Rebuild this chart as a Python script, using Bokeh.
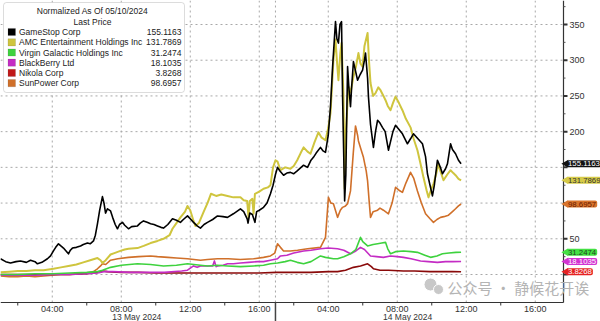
import math
from bokeh.plotting import figure
from bokeh.models import Range1d, Label, BoxAnnotation, ColumnDataSource
from bokeh.core.properties import value
from bokeh.embed import file_html
from bokeh.resources import INLINE

# ---------------- data ----------------
# time axis: session hours; 13 May clock hour h -> h, 14 May clock hour h -> 16 + h
names = ["GameStop Corp", "AMC Entertainment Holdings Inc", "Virgin Galactic Holdings Inc",
         "BlackBerry Ltd", "Nikola Corp", "SunPower Corp"]
last_values = ["155.1163", "131.7869", "31.2474", "18.1035", "3.8268", "98.6957"]

gme_t = [1.0, 1.3, 1.58, 1.9, 2.16, 2.5, 2.74, 3.0, 3.14, 3.4, 3.72, 3.9, 4.07, 4.2, 4.36, 4.5, 4.65, 4.8, 4.94,
         5.05, 5.17, 5.4, 5.64, 5.8, 6.04, 6.2, 6.39, 6.5, 6.62, 6.75, 6.91, 7.0, 7.09, 7.2, 7.38, 7.5, 7.65, 7.78,
         7.9, 8.07, 8.2, 8.42, 8.6, 8.94, 9.1, 9.29, 9.5, 9.7, 9.9, 10.1, 10.3, 10.45, 10.7, 10.97, 11.2, 11.43,
         11.6, 11.84, 12.0, 12.19, 12.4, 12.59, 12.8, 13.0, 13.3, 13.58, 13.9, 14.16, 14.5, 14.91, 15.1, 15.3,
         15.35, 15.45, 15.6, 15.75, 15.85, 16.0, 16.25, 16.45, 16.65, 16.8, 16.94, 17.06, 17.2, 17.41, 17.6,
         17.81, 17.99, 18.2, 18.57, 18.8, 19.0, 19.14, 19.3, 19.55, 19.7, 19.84, 20.0, 20.13, 20.25, 20.42,
         20.5, 20.59, 20.68, 20.77, 20.83, 20.88, 20.95, 21.02, 21.12, 21.2, 21.29, 21.35, 21.46, 21.58, 21.7,
         21.85, 21.99, 22.1, 22.16, 22.28, 22.33, 22.45, 22.62, 22.74, 22.86, 23.0, 23.14, 23.3, 23.49, 23.6,
         23.75, 23.9, 24.1, 24.3, 24.59, 24.77, 24.94, 25.2, 25.46, 25.64, 25.75, 25.9, 26.04, 26.15, 26.33,
         26.5, 26.62, 26.8, 26.91, 27.09, 27.2, 27.38, 27.55, 27.7]
gme_v = [22, 18, 16, 18, 19, 17, 20, 18, 15, 17, 22, 26, 33, 38, 43, 40, 37, 33, 29,
         34, 37, 38, 40, 42, 44, 43, 47, 55, 71, 90, 109, 100, 86, 92, 89, 80, 70, 64,
         70, 73, 69, 64, 67, 68, 72, 75, 73, 71, 70, 68, 66, 65, 70, 78, 76, 73,
         77, 82, 78, 73, 68, 65, 70, 73, 77, 82, 81, 80, 85, 92, 88, 78,
         72, 86, 84, 73, 88, 90, 94, 100, 113, 125, 140, 150, 145, 139, 142,
         143, 141, 145, 153, 150, 160, 164, 170, 178, 173, 171, 195, 235, 290, 354,
         330, 324, 350, 354, 250, 188, 103, 140, 291, 260, 235, 260, 298, 285, 272,
         280, 286, 300, 310, 275, 249, 210, 178, 200, 216, 212, 206, 200, 174, 185,
         200, 209, 203, 197, 183, 190, 197, 190, 183, 165, 141, 125, 110, 125, 160,
         150, 141, 148, 155, 183, 175, 169, 160, 155.1]

amc_t = [1.0, 1.5, 2.0, 2.5, 3.0, 3.5, 4.07, 4.5, 4.94, 5.4, 5.8, 6.2, 6.62, 6.8, 6.91, 7.1, 7.38, 7.6, 7.95,
         8.2, 8.42, 8.94, 9.3, 9.7, 10.1, 10.45, 10.8, 10.97, 11.2, 11.43, 11.7, 11.84, 12.0, 12.19, 12.3, 12.5,
         12.8, 13.0, 13.2, 13.5, 13.8, 14.16, 14.5, 14.91, 15.1, 15.3, 15.38, 15.45, 15.6, 15.67, 15.75, 16.0,
         16.25, 16.5, 16.65, 16.8, 16.94, 17.06, 17.23, 17.5, 17.81, 18.0, 18.2, 18.4, 18.57, 18.8, 18.97, 19.2,
         19.43, 19.6, 19.84, 20.0, 20.13, 20.3, 20.42, 20.5, 20.59, 20.7, 20.77, 20.88, 20.95, 21.02, 21.17,
         21.3, 21.46, 21.6, 21.75, 21.87, 21.99, 22.1, 22.28, 22.36, 22.45, 22.6, 22.74, 22.9, 23.03, 23.2,
         23.32, 23.45, 23.61, 23.75, 23.9, 24.1, 24.3, 24.5, 24.77, 24.95, 25.17, 25.35, 25.52, 25.7, 25.81,
         25.95, 26.1, 26.25, 26.39, 26.5, 26.68, 26.9, 27.09, 27.25, 27.38, 27.55, 27.7]
amc_v = [3, 4, 5, 5, 6, 6, 8, 10, 12, 14, 17, 20, 23, 20, 16, 20, 28, 30, 33,
         35, 36, 37, 40, 44, 47, 50, 55, 64, 72, 80, 88, 96, 90, 75, 68, 72,
         89, 100, 113, 110, 112, 110, 108, 108, 104, 103, 80, 103, 106, 85, 113, 116,
         120, 122, 125, 150, 160, 158, 146, 150, 148, 152, 160, 170, 178, 172, 169, 185,
         199, 192, 188, 205, 226, 300, 329, 300, 272, 310, 324, 254, 120, 200, 263,
         255, 277, 290, 310, 295, 291, 320, 338, 300, 268, 250, 254, 262, 258, 250,
         244, 236, 230, 240, 249, 240, 230, 218, 206, 190, 174, 155, 136, 118, 108,
         118, 127, 140, 155, 145, 132, 140, 146, 142, 139, 134, 131.8]

spwr_t = [1.0, 1.5, 2.0, 2.5, 3.0, 3.5, 4.0, 4.5, 5.0, 5.5, 6.0, 6.39, 6.62, 6.8, 6.91, 7.1, 7.38, 7.8, 8.42,
          9.0, 9.7, 10.1, 10.7, 11.2, 11.84, 12.59, 13.0, 13.58, 14.2, 14.9, 15.67, 16.25, 16.65, 16.9, 17.06,
          17.23, 17.41, 17.8, 18.22, 18.8, 19.55, 19.84, 20.01, 20.15, 20.3, 20.54, 20.7, 20.83, 21.0, 21.12,
          21.29, 21.45, 21.58, 21.7, 21.75, 21.9, 22.04, 22.2, 22.28, 22.38, 22.45, 22.6, 22.86, 23.0, 23.2,
          23.49, 23.7, 23.9, 24.1, 24.3, 24.5, 24.77, 24.95, 25.17, 25.4, 25.64, 25.9, 26.1, 26.3, 26.51, 26.7,
          26.97, 27.2, 27.38, 27.55, 27.7]
spwr_v = [-2, -3, -3, -2, -3, -2, -1, 0, 0, 1, 2, 4, 8, 12, 15, 14, 20, 22, 24,
          25, 26, 25, 24, 23, 22, 20, 21, 22, 22, 21, 22, 24, 26, 30, 43,
          38, 33, 33, 34, 36, 38, 52, 108, 100, 99, 80, 90, 94, 96, 99,
          117, 170, 208, 195, 187, 175, 164, 145, 131, 100, 80, 88, 90, 93, 90,
          85, 100, 122, 118, 115, 128, 143, 135, 117, 100, 85, 78, 73, 77, 80, 81,
          83, 88, 92, 96, 98.7]

spce_t = [1.0, 2.0, 3.0, 4.0, 5.0, 6.0, 6.62, 6.91, 7.38, 8.0, 8.94, 9.7, 10.45, 11.2, 11.84, 12.59, 13.0,
          13.58, 14.16, 14.91, 15.67, 16.25, 16.65, 17.06, 17.5, 17.81, 18.2, 18.57, 19.0, 19.55, 19.84, 20.3,
          20.54, 20.9, 21.29, 21.6, 21.87, 22.0, 22.28, 22.6, 22.86, 23.1, 23.32, 23.45, 23.61, 23.9, 24.36,
          24.8, 25.17, 25.6, 25.93, 26.3, 26.62, 27.0, 27.4, 27.7]
spce_v = [0, 0, 1, 1, 2, 3, 4, 6, 10, 13, 15, 14, 12, 13, 15, 13, 12,
          13, 12, 11, 12, 13, 15, 16, 18, 20, 17, 15, 18, 26, 24, 22,
          22, 25, 29, 35, 52, 46, 40, 42, 43, 44, 45, 36, 29, 32, 33,
          32, 31, 27, 24, 26, 29, 30, 31, 31.2]

bb_t = [1.0, 2.0, 3.0, 4.0, 5.0, 6.0, 6.62, 7.0, 7.5, 8.5, 9.5, 10.5, 11.5, 11.84, 12.19, 12.4, 12.59, 13.0,
        13.3, 13.4, 13.5, 13.58, 13.9, 14.16, 14.5, 14.91, 15.38, 15.9, 16.25, 16.65, 17.06, 17.23, 17.6, 18.0,
        18.57, 19.0, 19.55, 20.0, 20.54, 20.9, 21.29, 21.6, 21.87, 22.1, 22.45, 22.8, 23.2, 23.6, 24.0, 24.36,
        24.8, 25.35, 25.8, 26.33, 26.8, 27.2, 27.7]
bb_v = [-1, -1, -1, 0, 0, 1, 2, 4, 4, 3, 3, 3, 5, 6, 12, 10, 12, 12,
        12, 19, 11, 12, 13, 15, 15, 16, 17, 18, 18, 20, 22, 26, 27, 30,
        33, 34, 36, 37, 36, 34, 29, 33, 38, 35, 26, 25, 24, 26, 25, 24,
        22, 19, 18, 17, 18, 18, 18.1]

nkla_t = [1.0, 2.0, 3.0, 4.0, 5.0, 6.0, 6.62, 6.91, 7.2, 8.0, 9.0, 10.0, 11.0, 12.0, 13.0, 14.0, 15.0, 16.0,
          17.0, 18.0, 19.0, 20.0, 20.54, 21.0, 21.46, 21.87, 22.28, 22.5, 22.62, 23.0, 23.5, 24.36, 25.0, 25.9,
          26.5, 27.2, 27.7]
nkla_v = [0, 0, 0, 0, 0, 1, 3, 5, 4, 3, 3, 2, 2, 2, 2, 2, 2, 2,
          3, 3, 3, 4, 4, 6, 10, 12, 15, 11, 8, 6, 6, 5, 5, 4,
          4, 4, 3.8]

x_ticks = [4, 8, 12, 16, 20, 24, 28, 32]
x_tick_labels = ["04:00", "08:00", "12:00", "16:00", "04:00", "08:00", "12:00", "16:00"]
x_minor_ticks = [2, 6, 10, 14, 18, 22, 26, 30]
day_break = 16.94
date_labels = ["13 May 2024", "14 May 2024"]
date_label_pos = [8.9, 24.6]
y_label_ticks = [50, 200, 250, 300, 350]
y_grid_ticks = [0, 50, 100, 150, 200, 250, 300, 350]
y_minor_ticks = [25, 75, 125, 175, 225, 275, 325, 375]

line_colors = ["#000000", "#cfc53e", "#3ed23e", "#c42cc4", "#8a0a0a", "#d0702a"]
legend_colors = ["#000000", "#cfc53e", "#3ed23e", "#c42cc4", "#c01818", "#d0702a"]
tag_colors = ["#111111", "#d6cb48", "#44e044", "#d233d2", "#e52222", "#d8742c"]
tag_text_colors = ["#ffffff", "#333333", "#224422", "#ffffff", "#ffffff", "#6a1a00"]

series_t = [gme_t, amc_t, spce_t, bb_t, nkla_t, spwr_t]
series_v = [gme_v, amc_v, spce_v, bb_v, nkla_v, spwr_v]

# ---------------- layout helpers (pixel -> data for decorations) ----------------
PX_PER_HOUR = 17.25
PX_PER_UNIT = 250 / 350.0
ZERO_PY = 274.0
AREA_R, AREA_B = 563, 302     # right axis x / bottom axis y, in pixels
W, H = 600, 321


def X(px):
    return 1.0 + px / PX_PER_HOUR


def Y(py):
    return (ZERO_PY - py) / PX_PER_UNIT


FONT = "Liberation Sans"
GRID = "#a8a8a8"
AX = "#333333"

p = figure(width=W, height=H, output_backend="svg", toolbar_location=None,
           x_range=Range1d(X(0), X(W)), y_range=Range1d(Y(H), Y(0)),
           x_axis_location=None, y_axis_location=None, min_border=0)
p.outline_line_color = None
p.grid.visible = False
p.background_fill_color = "white"
p.border_fill_color = "white"

x_left, x_right = X(0), X(AREA_R)
y_bot, y_top = Y(AREA_B), Y(0)

# dotted grid
vx = x_ticks + [day_break]
p.segment(x0=vx, y0=[y_bot] * len(vx), x1=vx, y1=[y_top] * len(vx),
          line_color=GRID, line_dash="2 3", line_width=1)
p.segment(x0=[x_left] * len(y_grid_ticks), y0=y_grid_ticks, x1=[x_right] * len(y_grid_ticks),
          y1=y_grid_ticks, line_color=GRID, line_dash="2 3", line_width=1)

# lines (first series on top)
for i in reversed(range(len(names))):
    p.line(series_t[i], series_v[i], line_color=line_colors[i],
           line_width=2.0 if i == 1 else 1.6, line_join="round")

# axis lines
p.segment(x0=[x_left, x_right], y0=[y_bot, y_bot], x1=[x_right, x_right], y1=[y_bot, y_top],
          line_color=AX, line_width=1.2)
# day separator below the time axis
p.segment(x0=[day_break], y0=[y_bot], x1=[day_break], y1=[Y(H)], line_color="#444444", line_width=1.5)
# x minor ticks
p.segment(x0=x_minor_ticks, y0=[y_bot] * len(x_minor_ticks), x1=x_minor_ticks,
          y1=[Y(AREA_B + 3)] * len(x_minor_ticks), line_color=AX, line_width=1)
# y ticks (right)
p.segment(x0=[x_right] * len(y_grid_ticks), y0=y_grid_ticks, x1=[X(AREA_R + 4)] * len(y_grid_ticks),
          y1=y_grid_ticks, line_color=AX, line_width=2)
p.segment(x0=[x_right] * len(y_minor_ticks), y0=y_minor_ticks, x1=[X(AREA_R + 2)] * len(y_minor_ticks),
          y1=y_minor_ticks, line_color="#555555", line_width=1)

# tick labels
p.text(x=[X(AREA_R + 6)] * len(y_label_ticks), y=y_label_ticks, text=[str(t) for t in y_label_ticks],
       text_align="left", text_baseline="middle", text_font=value(FONT), text_font_size="9px",
       text_color=AX)
p.text(x=x_ticks, y=[Y(AREA_B + 6)] * len(x_ticks), text=x_tick_labels, text_align="center",
       text_baseline="middle", text_font=value(FONT), text_font_size="9px", text_color=AX)
p.text(x=date_label_pos, y=[Y(AREA_B + 14)] * len(date_labels), text=date_labels, text_align="center",
       text_baseline="middle", text_font=value(FONT), text_font_size="8.5px", text_color=AX)

# value tags on the right axis
tag_src = ColumnDataSource(dict(x=[X(AREA_R + 3.5)] * len(names), y=[float(v) for v in last_values],
                                text=last_values, fill=tag_colors, tc=tag_text_colors))
p.scatter(x=[X(AREA_R + 2.5)] * len(names), y=[float(v) for v in last_values], marker="triangle",
          angle=math.pi / 2, size=8, fill_color=tag_colors, line_color=None)
p.text(x="x", y="y", text="text", source=tag_src, text_align="left", text_baseline="middle",
       text_font=value(FONT), text_font_size="7.8px", text_color="tc",
       background_fill_color="fill", background_fill_alpha=1.0, padding=1, border_radius=2)

# watermark
p.text(x=[X(447)], y=[Y(287)], text=["公众号 · 静候花开诶"], text_align="left", text_baseline="middle",
       text_font=value("Noto Sans CJK SC"), text_font_size="15px", text_color="#b4b4b4")
p.scatter(x=[X(430), X(438)], y=[Y(284), Y(289)], marker="circle", size=[13, 10],
          fill_color="#c8c8c8", line_color="white", line_width=1)

# legend box
p.add_layout(BoxAnnotation(left=X(3), right=X(184), top=Y(2), bottom=Y(92),
                           fill_color="white", fill_alpha=1.0, line_color="#8a8a8a",
                           line_width=1, border_radius=3))
p.add_layout(Label(x=X(92), y=Y(10), text="Normalized As Of 05/10/2024", text_align="center",
                   text_baseline="middle", text_font=FONT, text_font_size="8.5px", text_color="#222222"))
p.add_layout(Label(x=X(92), y=Y(21), text="Last Price", text_align="center",
                   text_baseline="middle", text_font=FONT, text_font_size="8.5px", text_color="#222222"))
row_py = [31.5, 41.8, 52, 62.2, 72.4, 82.6]
for i, nm in enumerate(names):
    ry = row_py[i]
    p.add_layout(BoxAnnotation(left=X(7.5), right=X(15), top=Y(ry - 3.6), bottom=Y(ry + 3.6),
                               fill_color=legend_colors[i], fill_alpha=1.0, line_color="#444444",
                               line_width=0.5))
    p.add_layout(Label(x=X(18.5), y=Y(ry), text=nm, text_align="left", text_baseline="middle",
                       text_font=FONT, text_font_size="8.5px", text_color="#222222"))
    p.add_layout(Label(x=X(181), y=Y(ry), text=last_values[i], text_align="right",
                       text_baseline="middle", text_font=FONT, text_font_size="8.5px",
                       text_color="#222222"))

open("out.html", "w").write(file_html(p, INLINE))
